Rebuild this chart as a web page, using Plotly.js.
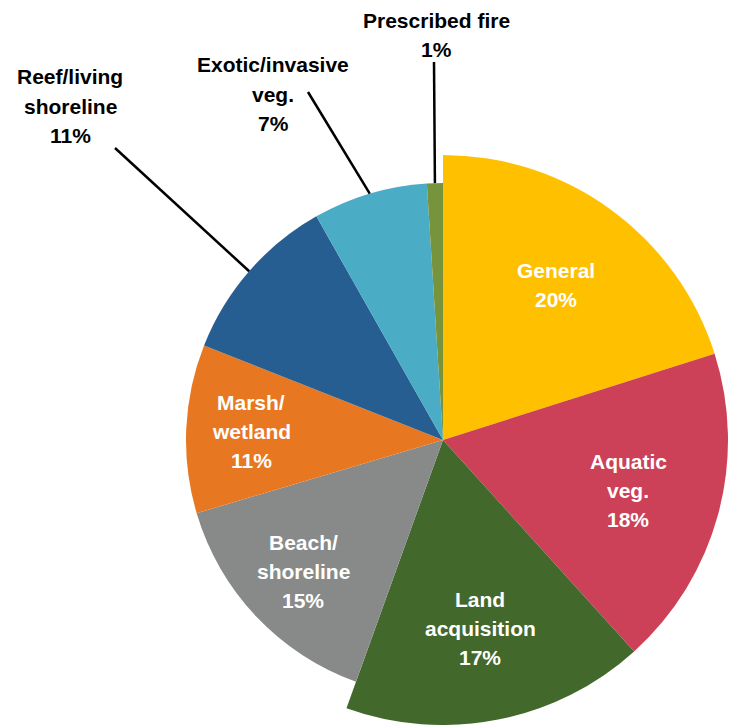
<!DOCTYPE html>
<html>
<head>
<meta charset="utf-8">
<script src="https://cdn.plot.ly/plotly-3.0.1.min.js"></script>
<style>html,body{margin:0;padding:0;background:#fff;}#chart{width:735px;height:725px;}</style>
</head>
<body>
<div id="chart"></div>
<script>
// ---- data ----
const categories = ['General', 'Aquatic veg.', 'Land acquisition', 'Beach/shoreline', 'Marsh/wetland', 'Reef/living shoreline', 'Exotic/invasive veg.', 'Prescribed fire'];
const shares = [20.1, 18.2, 17.2, 14.9, 10.6, 10.8, 7.2, 1.0];
const labelLines = [['General'], ['Aquatic', 'veg.'], ['Land', 'acquisition'], ['Beach/', 'shoreline'], ['Marsh/', 'wetland'], ['Reef/living', 'shoreline'], ['Exotic/invasive', 'veg.'], ['Prescribed fire']];

// ---- styles / layout ----
const W = 735, H = 725;
const C = {x: 443, y: 440};
const R_BIG = 285, R_SMALL = 257, R_LABEL = 192;
const LINE_GAP = 29, FONT_SIZE = 21;
const colors = ['#FFC000', '#CC4157', '#43682B', '#888A8A', '#E87722', '#275E91', '#4BACC6', '#77933C'];
const largeSlices = ['General', 'Aquatic veg.', 'Land acquisition'];
const outsideSlices = {
  'Reef/living shoreline': {x: 70, y: 106, lx: 115, ly: 148},
  'Exotic/invasive veg.': {x: 273, y: 94, lx: 308, ly: 92},
  'Prescribed fire': {x: 436, y: 35, lx: 434, ly: 62}
};
const FONT = 'Liberation Sans, Arial, sans-serif';

const px = x => x / W;
const py = y => 1 - y / H;
const transparent = 'rgba(0,0,0,0)';

function domainFor(r) {
  return {x: [px(C.x - r), px(C.x + r)], y: [Math.max(0, py(C.y + r)), py(C.y - r)]};
}

const total = shares.reduce((a, b) => a + b, 0);
const pct = shares.map(v => Math.round(v / total * 100) + '%');

const bigTrace = {
  type: 'pie', values: shares, labels: categories, sort: false, direction: 'clockwise', rotation: 0,
  domain: domainFor(R_BIG), textinfo: 'none', hoverinfo: 'skip', showlegend: false,
  marker: {colors: categories.map((c, i) => largeSlices.includes(c) ? colors[i] : transparent), line: {width: 0}}
};
const smallTrace = {
  type: 'pie', values: shares, labels: categories, sort: false, direction: 'clockwise', rotation: 0,
  domain: domainFor(R_SMALL), textinfo: 'none', hoverinfo: 'skip', showlegend: false,
  marker: {colors: categories.map((c, i) => largeSlices.includes(c) ? transparent : colors[i]), line: {width: 0}}
};

const annotations = [];
const shapes = [];
function addLines(lines, cx, cy, color) {
  const n = lines.length;
  lines.forEach((t, k) => {
    const y = cy + (k - (n - 1) / 2) * LINE_GAP;
    annotations.push({xref: 'paper', yref: 'paper', x: px(cx), y: py(y), xanchor: 'center', yanchor: 'middle',
      text: t, showarrow: false, font: {family: FONT, size: FONT_SIZE, color: color, weight: 700}});
  });
}

let cum = 0;
shares.forEach((v, i) => {
  const mid = (cum + v / 2) / total * 2 * Math.PI;
  cum += v;
  const name = categories[i];
  const lines = labelLines[i].concat([pct[i]]);
  if (outsideSlices[name]) {
    const o = outsideSlices[name];
    const r = largeSlices.includes(name) ? R_BIG : R_SMALL;
    const ex = C.x + r * Math.sin(mid), ey = C.y - r * Math.cos(mid);
    addLines(lines, o.x, o.y, '#000');
    shapes.push({type: 'line', xref: 'paper', yref: 'paper', x0: px(o.lx), y0: py(o.ly), x1: px(ex), y1: py(ey),
      line: {color: '#000', width: 2.5}});
  } else {
    const tx = C.x + R_LABEL * Math.sin(mid), ty = C.y - R_LABEL * Math.cos(mid);
    addLines(lines, tx, ty, '#fff');
  }
});

const layout = {
  width: W, height: H, margin: {l: 0, r: 0, t: 0, b: 0},
  paper_bgcolor: '#fff', plot_bgcolor: '#fff', showlegend: false,
  annotations: annotations, shapes: shapes
};
Plotly.newPlot('chart', [bigTrace, smallTrace], layout, {displayModeBar: false, staticPlot: true});
</script>
</body>
</html>
